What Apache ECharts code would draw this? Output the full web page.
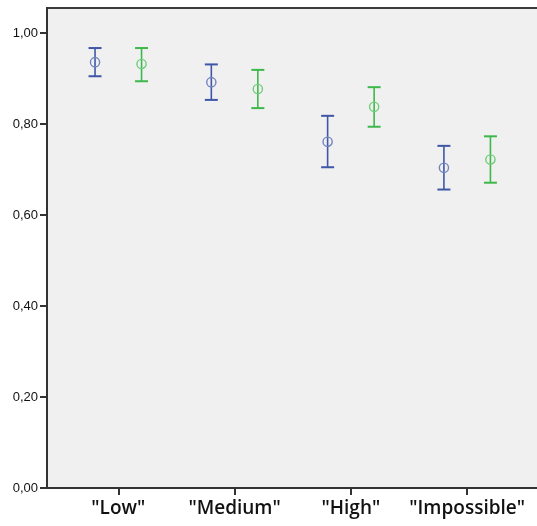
<!DOCTYPE html>
<html>
<head>
<meta charset="utf-8">
<script src="https://cdn.jsdelivr.net/npm/echarts@6/dist/echarts.min.js"></script>
<style>
  html, body { margin: 0; padding: 0; background: #fff; }
  #chart { width: 537px; height: 526px; }
</style>
</head>
<body>
<div id="chart"></div>
<script>
// categories on the x axis
const categories = ['"Low"', '"Medium"', '"High"', '"Impossible"']
const yTicks = [0, 0.2, 0.4, 0.6, 0.8, 1.0]

// first group (blue)
const blueMean = [0.936, 0.892, 0.761, 0.704]
const blueLow = [0.905, 0.853, 0.705, 0.656]
const blueHigh = [0.967, 0.931, 0.818, 0.752]

// second group (green)
const greenMean = [0.932, 0.877, 0.838, 0.722]
const greenLow = [0.894, 0.835, 0.794, 0.671]
const greenHigh = [0.967, 0.919, 0.881, 0.773]

const BLUE = '#3f57a6'
const BLUE_LIGHT = '#7283c2'
const GREEN = '#3db84b'
const GREEN_LIGHT = '#6fcc79'

const toRows = (mean, low, high) =>
  categories.map((c, i) => [i + 1, low[i], high[i], mean[i]])

// error bar with hollow circle at the mean
const makeRender = (offset, color, light) => (params, api) => {
  const x = api.value(0) + offset
  const lo = api.coord([x, api.value(1)])
  const hi = api.coord([x, api.value(2)])
  const mid = api.coord([x, api.value(3)])
  const cap = 6.5
  return {
    type: 'group',
    children: [
      { type: 'line', shape: { x1: lo[0], y1: hi[1], x2: lo[0], y2: lo[1] }, style: { stroke: color, lineWidth: 1.6 } },
      { type: 'line', shape: { x1: lo[0] - cap, y1: hi[1], x2: lo[0] + cap, y2: hi[1] }, style: { stroke: color, lineWidth: 2 } },
      { type: 'line', shape: { x1: lo[0] - cap, y1: lo[1], x2: lo[0] + cap, y2: lo[1] }, style: { stroke: color, lineWidth: 2 } },
      { type: 'circle', shape: { cx: mid[0], cy: mid[1], r: 4.6 }, style: { fill: null, stroke: light, lineWidth: 1.4 } }
    ]
  }
}

const chart = echarts.init(document.getElementById('chart'))

const option = {
  backgroundColor: '#ffffff',
  animation: false,
  grid: {
    left: 47,
    right: -6,
    top: 8,
    bottom: 38,
    outerBoundsMode: 'none',
    containLabel: false,
    show: true,
    backgroundColor: '#f0f0f0',
    borderColor: '#3a3a3a',
    borderWidth: 2
  },
  xAxis: {
    type: 'value',
    min: 0.387,
    max: 4.652,
    axisLine: { show: true, onZero: false, lineStyle: { color: '#333', width: 2 } },
    axisTick: { show: true, length: 7, customValues: [1, 2, 3, 4], lineStyle: { color: '#333', width: 2 } },
    splitLine: { show: false },
    axisLabel: {
      customValues: [1, 2, 3, 4],
      formatter: v => categories[Math.round(v) - 1],
      fontFamily: 'Open Sans',
      fontWeight: 600,
      fontSize: 19,
      color: '#111',
      margin: 11
    }
  },
  yAxis: {
    type: 'value',
    min: 0,
    max: 1.055,
    interval: 0.2,
    axisLine: { show: true, lineStyle: { color: '#333', width: 2 } },
    axisTick: { show: true, length: 7, customValues: yTicks, lineStyle: { color: '#333', width: 2 } },
    splitLine: { show: false },
    axisLabel: {
      customValues: yTicks,
      formatter: v => v.toFixed(2).replace('.', ','),
      fontFamily: 'Liberation Sans',
      fontSize: 13,
      color: '#111',
      margin: 9
    }
  },
  series: [
    {
      name: 'Group 1',
      type: 'custom',
      renderItem: makeRender(-0.2, BLUE, BLUE_LIGHT),
      data: toRows(blueMean, blueLow, blueHigh)
    },
    {
      name: 'Group 2',
      type: 'custom',
      renderItem: makeRender(0.2, GREEN, GREEN_LIGHT),
      data: toRows(greenMean, greenLow, greenHigh)
    }
  ]
}

chart.setOption(option)
</script>
</body>
</html>
